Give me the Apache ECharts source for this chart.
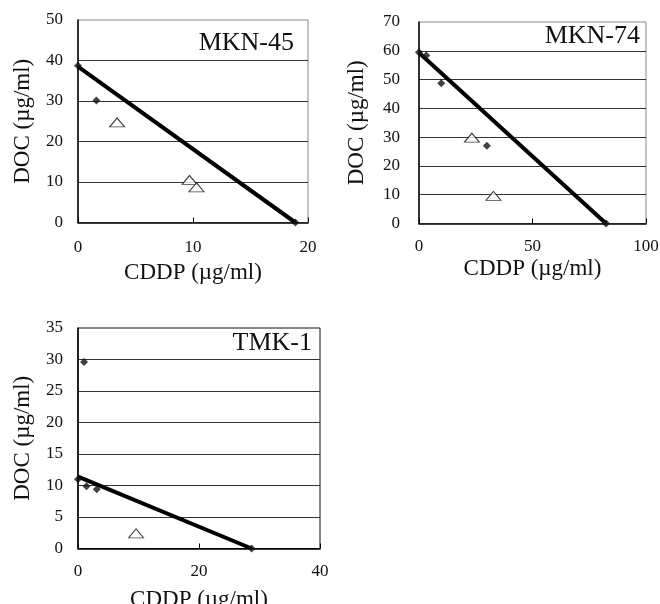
<!DOCTYPE html>
<html>
<head>
<meta charset="utf-8">
<script src="https://cdn.jsdelivr.net/npm/echarts@6/dist/echarts.min.js"></script>
<style>
html,body{margin:0;padding:0;background:#fff;}
#chart{width:660px;height:604px;}
</style>
</head>
<body>
<div id="chart"></div>
<script>
// ---- data ----
const panelNames = ['MKN-45', 'MKN-74', 'TMK-1'];
const xTitle = 'CDDP (µg/ml)';
const yTitle = 'DOC (µg/ml)';

const m45Diamonds = [[0, 38.7], [1.6, 30.1], [18.9, 0]];
const m45Triangles = [[3.4, 24.7], [9.7, 10.5], [10.3, 8.7]];
const m45Fit = [[0, 38.5], [18.9, 0]];

const m74Diamonds = [[0, 59.5], [3.2, 58.4], [9.8, 48.7], [29.9, 27.0], [82.4, 0]];
const m74Triangles = [[23.3, 29.8], [32.8, 9.6]];
const m74Fit = [[0, 59.3], [82.4, 0]];

const tmkDiamonds = [[0, 11.0], [1.0, 29.6], [1.4, 9.9], [3.1, 9.4], [28.7, 0]];
const tmkTriangles = [[9.6, 2.4]];
const tmkFit = [[0, 11.4], [28.7, 0]];

const xRanges = [[0, 20, 10], [0, 100, 50], [0, 40, 20]];
const yRanges = [[0, 50, 10], [0, 70, 10], [0, 35, 5]];

// ---- layout ----
const FONT = 'Liberation Serif, Times New Roman, serif';
const grids = [
  {left: 78, top: 20, width: 230, height: 202.5, borderColor: '#888'},
  {left: 419, top: 22, width: 227, height: 201.5, borderColor: '#888'},
  {left: 78, top: 328, width: 242, height: 220.5, borderColor: '#111'}
];
const yLabelMargin = [15, 19, 15];
const yNameGap = [44, 51, 44];
const xNameGap = [39, 34, 40];
const xLabelMargin = [17, 15, 15];
const panelTitlePos = [
  {right: 366, top: 30},
  {right: 20, top: 23},
  {right: 348, top: 330}
];
const seriesData = [
  [m45Diamonds, m45Triangles, m45Fit],
  [m74Diamonds, m74Triangles, m74Fit],
  [tmkDiamonds, tmkTriangles, tmkFit]
];

const option = {
  backgroundColor: '#fff',
  animation: false,
  title: panelNames.map((n, i) => ({
    text: n, right: panelTitlePos[i].right, top: panelTitlePos[i].top, padding: 0,
    textStyle: {fontFamily: FONT, fontSize: 26, fontWeight: 'normal', color: '#111'}
  })),
  grid: grids.map(g => ({
    left: g.left, top: g.top, width: g.width, height: g.height,
    show: true, borderColor: g.borderColor, borderWidth: 1, containLabel: false,
    outerBoundsMode: 'none'
  })),
  xAxis: xRanges.map((r, i) => ({
    type: 'value', gridIndex: i, min: r[0], max: r[1], interval: r[2],
    name: xTitle, nameLocation: 'middle', nameGap: xNameGap[i],
    nameTextStyle: {fontFamily: FONT, fontSize: 23, color: '#111'},
    axisLine: {show: true, onZero: false, lineStyle: {color: '#000', width: 1.5}},
    axisTick: {show: true, inside: true, length: 5, lineStyle: {color: '#000'}},
    axisLabel: {fontFamily: FONT, fontSize: 17, color: '#111', margin: xLabelMargin[i]},
    splitLine: {show: false}
  })),
  yAxis: yRanges.map((r, i) => ({
    type: 'value', gridIndex: i, min: r[0], max: r[1], interval: r[2],
    name: yTitle, nameLocation: 'middle', nameGap: yNameGap[i],
    nameTextStyle: {fontFamily: FONT, fontSize: 23, color: '#111'},
    axisLine: {show: true, onZero: false, lineStyle: {color: '#000', width: 1.5}},
    axisTick: {show: false},
    axisLabel: {fontFamily: FONT, fontSize: 17, color: '#111', margin: yLabelMargin[i]},
    splitLine: {show: true, showMinLine: false, showMaxLine: false, lineStyle: {color: '#333', width: 1}}
  })),
  series: []
};

seriesData.forEach((d, i) => {
  option.series.push({
    type: 'line', xAxisIndex: i, yAxisIndex: i, data: d[2],
    showSymbol: false, symbol: 'none', clip: false,
    lineStyle: {color: '#000', width: 4}, z: 3
  });
  option.series.push({
    type: 'scatter', xAxisIndex: i, yAxisIndex: i, data: d[0],
    symbol: 'diamond', symbolSize: 8, clip: false,
    itemStyle: {color: '#111'}, z: 4
  });
  option.series.push({
    type: 'scatter', xAxisIndex: i, yAxisIndex: i, data: d[1],
    symbol: 'triangle', symbolSize: [15, 9], clip: false,
    itemStyle: {color: '#fff', borderColor: '#111', borderWidth: 1}, z: 4
  });
});

const chart = echarts.init(document.getElementById('chart'), null, {renderer: 'canvas'});
chart.setOption(option);
</script>
</body>
</html>
